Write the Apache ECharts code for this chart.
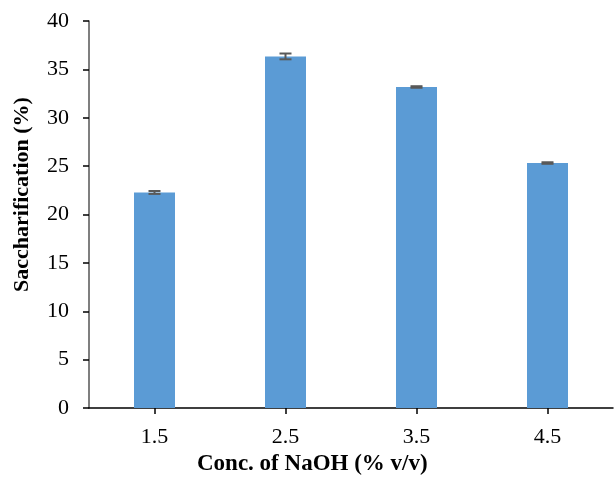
<!DOCTYPE html>
<html>
<head>
<meta charset="utf-8">
<script src="https://cdn.jsdelivr.net/npm/echarts@6/dist/echarts.min.js"></script>
<style>html,body{margin:0;padding:0;background:#fff}#c{width:615px;height:481px}</style>
</head>
<body>
<div id="c"></div>
<script>
var categories = ['1.5', '2.5', '3.5', '4.5'];
var values = [22.28, 36.34, 33.18, 25.32];
var errors = [0.15, 0.3, 0.08, 0.08];
var yTicks = [0, 5, 10, 15, 20, 25, 30, 35, 40];

var chart = echarts.init(document.getElementById('c'), null, {renderer: 'canvas'});
var font = '"Liberation Serif", "Times New Roman", serif';
var errData = values.map(function (v, i) { return [i, v - errors[i], v + errors[i]]; });

chart.setOption({
  animation: false,
  grid: {left: 89, right: 2, top: 21, bottom: 73},
  xAxis: {
    type: 'category',
    data: categories,
    axisLine: {lineStyle: {color: '#000', width: 1.5}},
    axisTick: {show: true, alignWithLabel: true, length: 6, lineStyle: {color: '#000', width: 1.5}},
    axisLabel: {color: '#000', fontFamily: font, fontSize: 22, margin: 18}
  },
  yAxis: {
    type: 'value',
    min: 0, max: 40, interval: 5,
    axisLine: {show: true, lineStyle: {color: '#555', width: 1.5}},
    axisTick: {show: true, length: 6, lineStyle: {color: '#000', width: 1.5}},
    splitLine: {show: false},
    axisLabel: {color: '#000', fontFamily: font, fontSize: 22, margin: 20,
      formatter: function (v) { return yTicks.indexOf(v) >= 0 ? String(v) : ''; }}
  },
  graphic: [
    {type: 'text', left: 197, top: 453, style: {text: 'Conc. of NaOH (% v/v)', font: 'bold 23px ' + font, fill: '#000'}},
    {type: 'text', x: 11, y: 292, rotation: Math.PI / 2, style: {text: 'Saccharification (%)', font: 'bold 22px ' + font, fill: '#000'}}
  ],
  series: [
    {
      type: 'bar',
      data: values,
      barWidth: 41,
      itemStyle: {color: '#5b9bd5'}
    },
    {
      type: 'custom',
      data: errData,
      z: 10,
      renderItem: function (params, api) {
        var x = api.value(0);
        var lo = api.coord([x, api.value(1)]);
        var hi = api.coord([x, api.value(2)]);
        var hw = 6;
        var st = {stroke: '#595959', lineWidth: 2};
        return {type: 'group', children: [
          {type: 'line', shape: {x1: lo[0], y1: lo[1], x2: hi[0], y2: hi[1]}, style: st},
          {type: 'line', shape: {x1: lo[0] - hw, y1: lo[1], x2: lo[0] + hw, y2: lo[1]}, style: st},
          {type: 'line', shape: {x1: hi[0] - hw, y1: hi[1], x2: hi[0] + hw, y2: hi[1]}, style: st}
        ]};
      }
    }
  ]
});
</script>
</body>
</html>
